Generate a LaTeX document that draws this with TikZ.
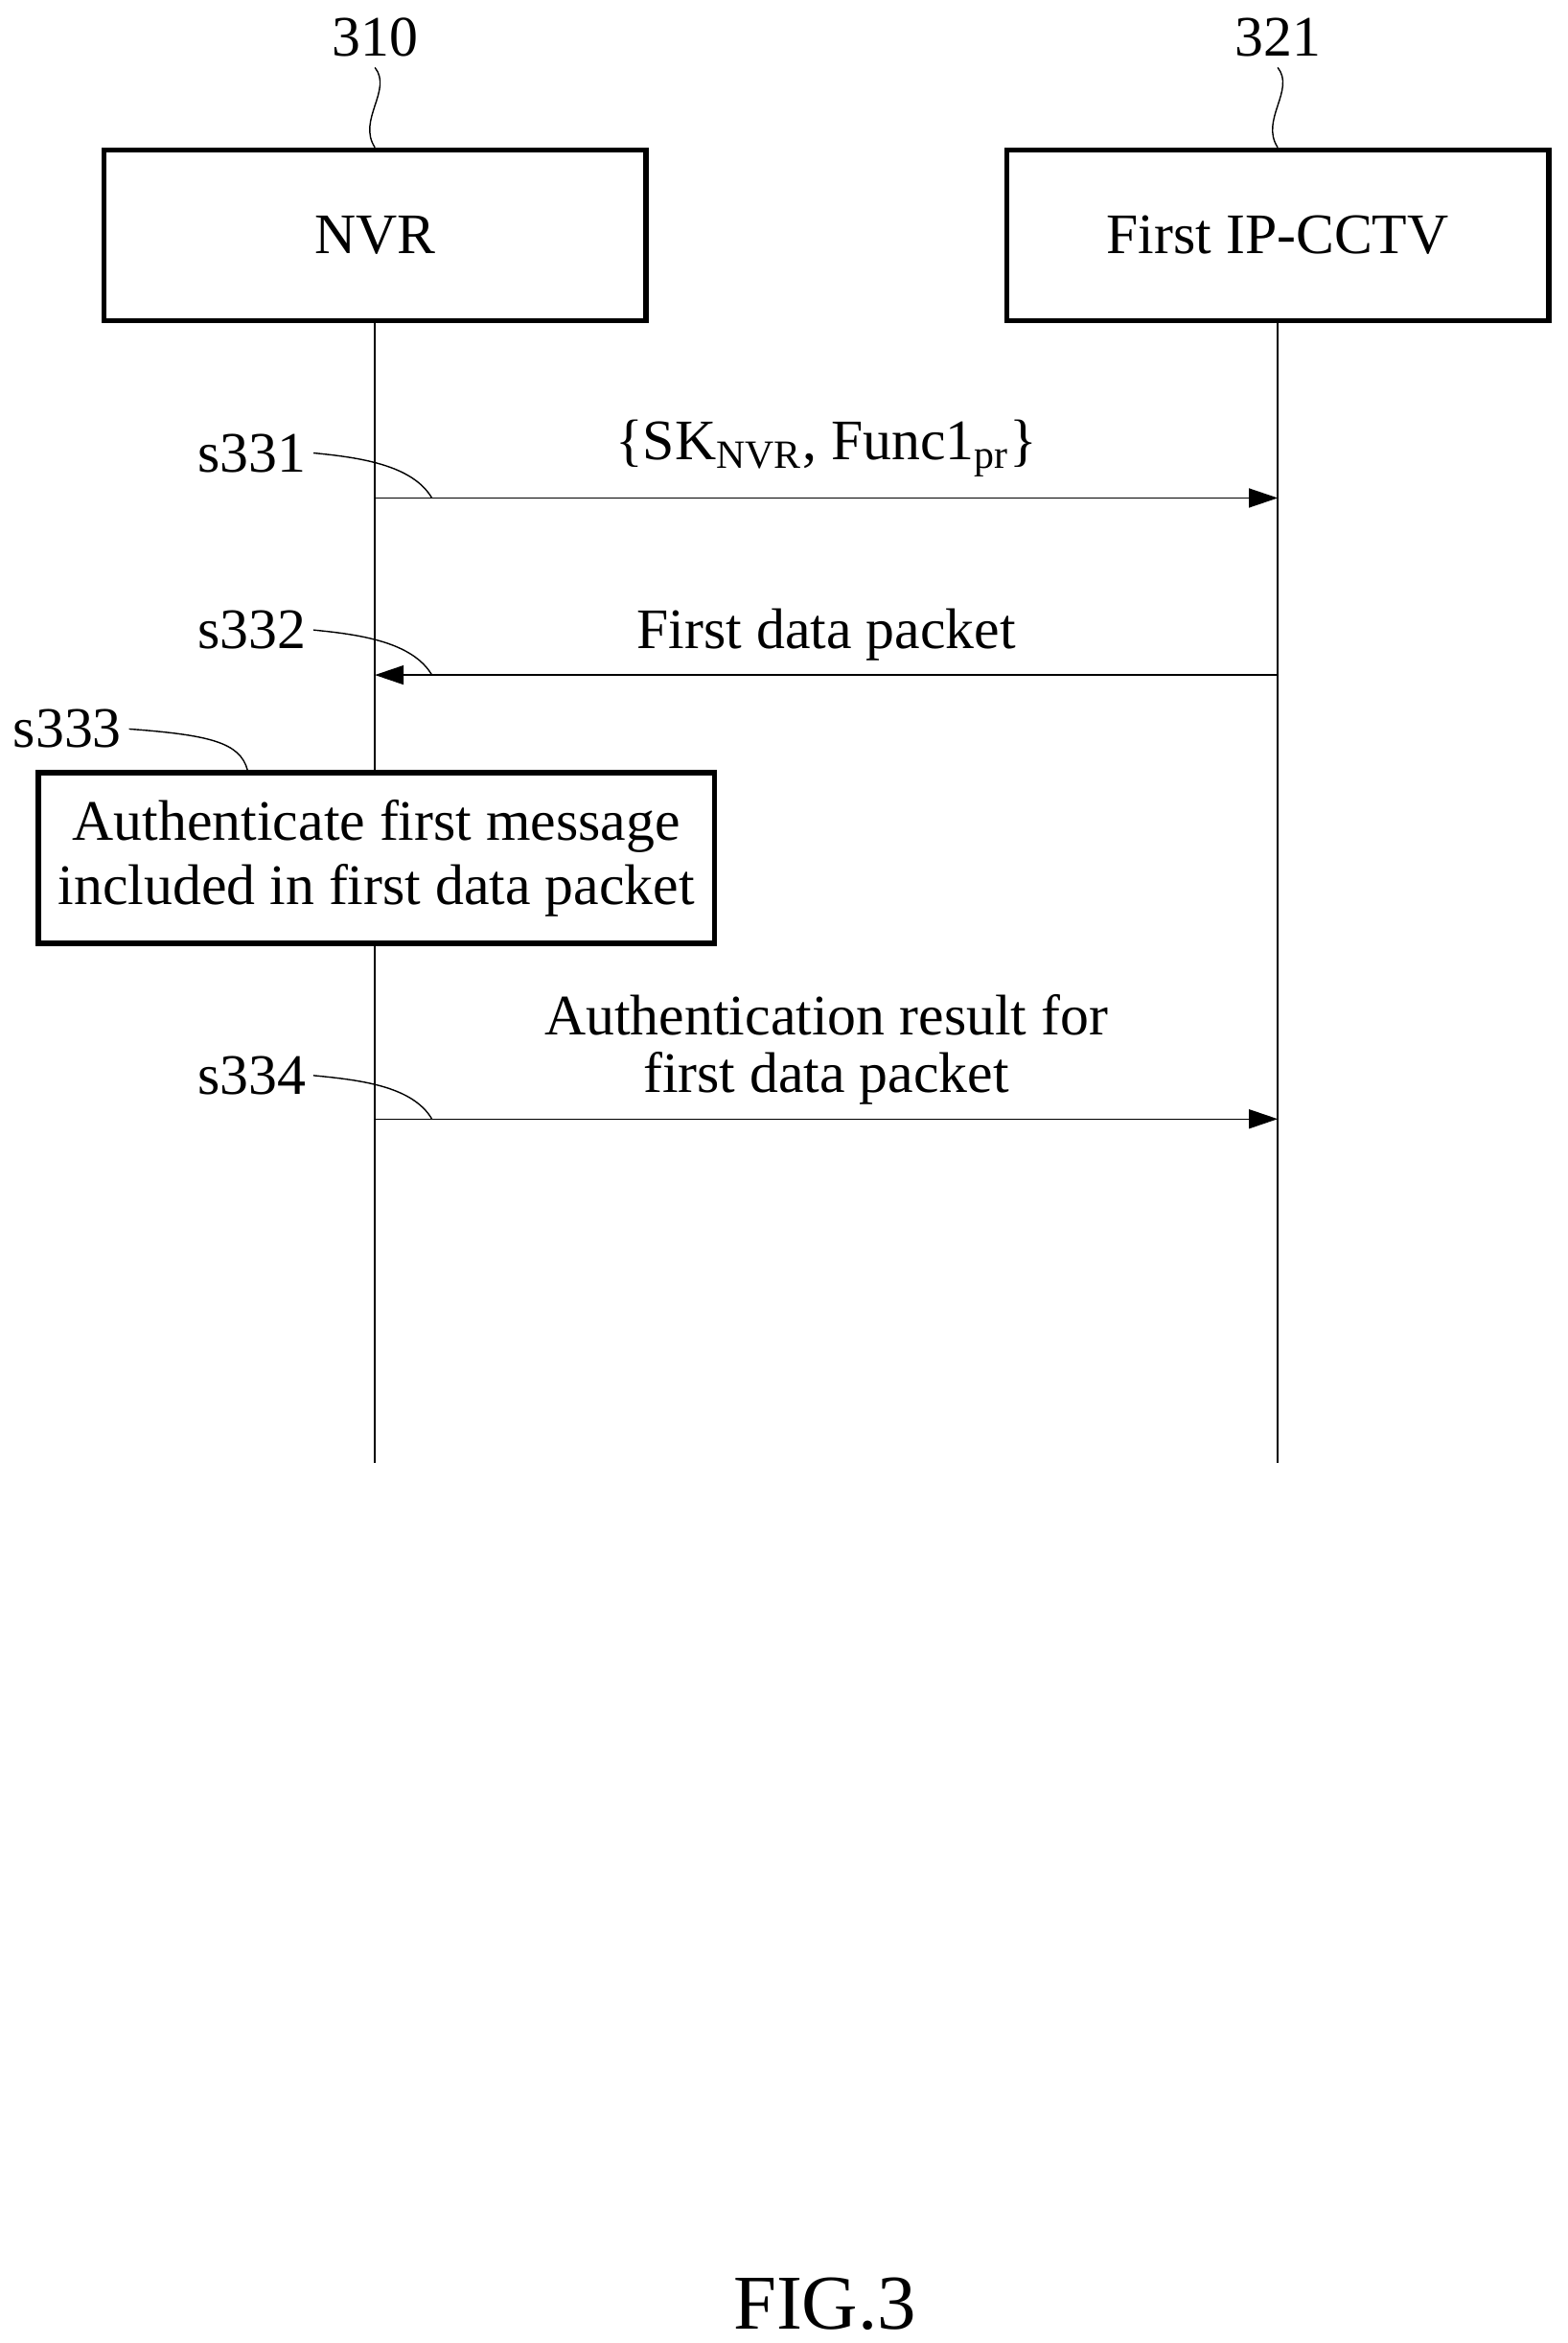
\documentclass[tikz,border=0pt]{standalone}
\usepackage{fontspec}
\setmainfont{Liberation Serif}
\usetikzlibrary{arrows.meta,positioning}
\tikzstyle{entity}=[draw, line width=1.6pt, minimum width=5.65cm, minimum height=1.78cm, font=\fontsize{17}{20}\selectfont]
\tikzstyle{procbox}=[draw, fill=white, line width=1.6pt, minimum width=7.05cm, minimum height=1.78cm, align=center, font=\fontsize{17}{19}\selectfont]
\tikzstyle{invis}=[inner sep=2pt, font=\fontsize{17}{19}\selectfont, align=center]
\tikzstyle{msg}=[thin, -{Triangle[length=3mm,width=2mm]}]
\tikzstyle{leader}=[thin]

\begin{document}
\begin{tikzpicture}[x=0.015646cm, y=-0.015646cm]
    \useasboundingbox (0,0) rectangle (1045,1562);
    % entities
    \node[entity] (nvr) at (250,157) {NVR};
    \node[entity] (cctv) at (852,157) {First IP-CCTV};
    \node[invis] (t310) at (250,25) {310};
    \node[invis] (t321) at (852,25) {321};
    \draw[leader] (250,45) .. controls (262,60) and (238,80) .. (nvr.north);
    \draw[leader] (852,45) .. controls (864,60) and (840,80) .. (cctv.north);

    % lifelines
    \coordinate (nvrEnd) at (250,975);
    \coordinate (cctvEnd) at (852,975);
    \draw[thin] (nvr.south) -- (nvrEnd);
    \draw[thin] (cctv.south) -- (cctvEnd);

    % step points
    \coordinate (a1) at (250,332); \coordinate (b1) at (852,332);
    \coordinate (a2) at (250,450); \coordinate (b2) at (852,450);
    \coordinate (a4) at (250,746); \coordinate (b4) at (852,746);

    % messages
    \draw[msg] (a1) -- node[invis, above=4pt, pos=0.5] {\{SK\textsubscript{NVR}, Func1\textsubscript{pr}\}} (b1);
    \draw[msg] (b2) -- node[invis, above=2pt, pos=0.5] {First data packet} (a2);
    \draw[msg] (a4) -- node[invis, above=2pt, pos=0.5, font=\fontsize{17}{17}\selectfont] {Authentication result for\\first data packet} (b4);

    % processing
    \node[procbox] (auth) at (251,572) {Authenticate first message\\included in first data packet};

    % step labels
    \node[invis] (s331) at (168,302) {s331};
    \node[invis] (s332) at (168,420) {s332};
    \node[invis] (s333) at (45,486) {s333};
    \node[invis] (s334) at (168,717) {s334};
    \draw[leader] (s331.east) .. controls (240,305) and (275,310) .. (288,332);
    \draw[leader] (s332.east) .. controls (240,423) and (275,428) .. (288,450);
    \draw[leader] (s333.east) .. controls (140,490) and (160,495) .. (auth.north -| 165,0);
    \draw[leader] (s334.east) .. controls (240,720) and (275,724) .. (288,746);

    \node[inner sep=0pt, font=\fontsize{23}{26}\selectfont] (fig) at (550,1536) {FIG.3};
\end{tikzpicture}
\end{document}
